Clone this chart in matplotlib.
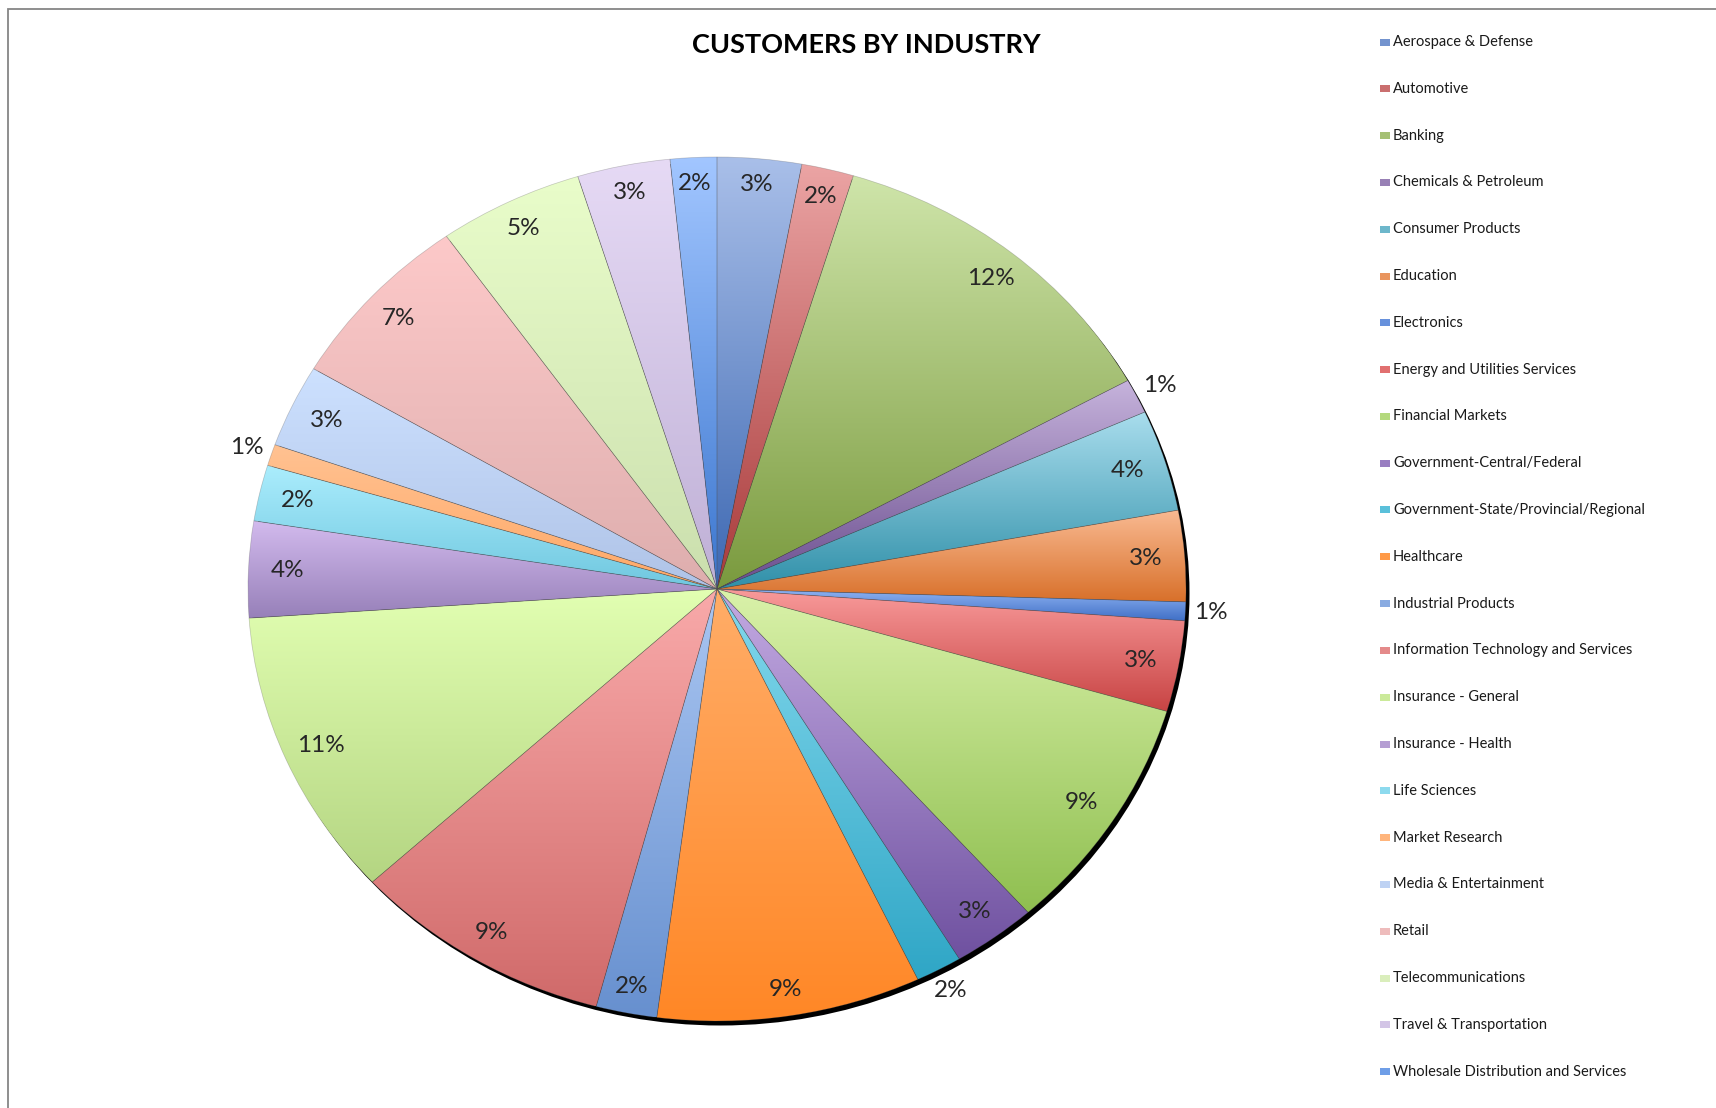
import matplotlib.pyplot as plt
import matplotlib.colors as mcolors
from matplotlib.patches import Ellipse, Rectangle
import numpy as np

industries = ['Aerospace & Defense', 'Automotive', 'Banking', 'Chemicals & Petroleum',
              'Consumer Products', 'Education', 'Electronics', 'Energy and Utilities Services',
              'Financial Markets', 'Government-Central/Federal',
              'Government-State/Provincial/Regional', 'Healthcare', 'Industrial Products',
              'Information Technology and Services', 'Insurance - General', 'Insurance - Health',
              'Life Sciences', 'Market Research', 'Media & Entertainment', 'Retail',
              'Telecommunications', 'Travel & Transportation', 'Wholesale Distribution and Services']
# share of customers (%)
shares = [2.9, 1.8, 12.3, 1.3, 3.8, 3.4, 0.7, 3.4, 8.9, 2.9, 1.6, 9.1, 2.1, 9.0,
          10.8, 3.6, 2.1, 0.8, 3.1, 6.7, 5.0, 3.2, 1.6]
# slices whose label sits outside the pie
outside = ['Chemicals & Petroleum', 'Electronics', 'Government-State/Provincial/Regional',
           'Market Research']

# gradient colours of each slice (top -> bottom)
tops = ['#a9bfe9', '#eba4a4', '#cfe5aa', '#c6b3dc', '#a9dded', '#f9ba92', '#8fb3f2', '#f99b9b',
        '#daf2aa', '#c3aae2', '#84d9ed', '#ffad68', '#aac6f2', '#f9aaaa', '#e2ffb2', '#d3bbee',
        '#abedfd', '#ffc292', '#cde1ff', '#fdc9c9', '#e9fdca', '#e6daf5', '#a2c6ff']
bottoms = ['#3d68b2', '#a83a3a', '#7a9a3e', '#6a4d8e', '#3090a9', '#d8702a', '#3f6fc6', '#c84444',
           '#8fbf50', '#6f51a0', '#2fa6c6', '#ff8726', '#6790cf', '#d06a6a', '#b4d582', '#9780b9',
           '#6fc7df', '#ffa866', '#afc3e7', '#deaeae', '#cbdfae', '#bfb0d6', '#3b76cf']

W, H = 1716, 1108
fig = plt.figure(figsize=(W / 100, H / 100), dpi=100)
fig.patch.set_facecolor('white')

# chart border (only left and top visible)
fig.patches.append(Rectangle((7.5 / W, -0.05), 1.2, (H - 8.5) / H + 0.05, transform=fig.transFigure,
                             fill=False, edgecolor='#868686', linewidth=1.3))

rx, ry = 469, 432
cx, cy = 717, H - 589
lim = 1.15
ax = fig.add_axes([(cx - rx * lim) / W, (cy - ry * lim) / H, 2 * rx * lim / W, 2 * ry * lim / H])

fam = ['Lato', 'DejaVu Sans']
wedges, texts, autotexts = ax.pie(
    shares, startangle=90, counterclock=False,
    autopct=lambda p: '%d%%' % round(p), pctdistance=0.942,
    wedgeprops=dict(facecolor='none', edgecolor=(0.3, 0.3, 0.3, 0.3), linewidth=0.5, zorder=3),
    textprops=dict(fontsize=17.5, color='#262626', family=fam))
for t in autotexts:
    t.set_zorder(5)

# shadow under the pie
ax.add_patch(Ellipse((3.5 / rx, -4.5 / ry), 2, 2, facecolor='black', edgecolor='none', zorder=1))

for w, name, top, bot, t in zip(wedges, industries, tops, bottoms, autotexts):
    ext = w.get_path().get_extents()
    c0 = np.array(mcolors.to_rgb(top))
    c1 = np.array(mcolors.to_rgb(bot))
    f = np.linspace(0, 1, 256)[:, None, None]
    grad = c0 * (1 - f) + c1 * f
    grad = np.repeat(grad, 2, axis=1)
    im = ax.imshow(grad, extent=(ext.x0, ext.x1, ext.y0, ext.y1), origin='upper',
                   aspect='auto', interpolation='bilinear', zorder=2)
    im.set_clip_path(w)
    mid = np.deg2rad((w.theta1 + w.theta2) / 2)
    if name in outside:
        t.set_position((1.055 * np.cos(mid), 1.055 * np.sin(mid)))
    else:
        # keep labels on the left/right sides a touch further in
        r = 0.942 - 0.025 * abs(np.cos(mid))
        t.set_position((r * np.cos(mid), r * np.sin(mid)))

ax.set_aspect('auto')
ax.set_xlim(-lim, lim)
ax.set_ylim(-lim, lim)
ax.axis('off')

fig.text(866 / W, 1 - 45 / H, 'CUSTOMERS BY INDUSTRY', ha='center', va='center',
         fontsize=19.5, fontweight='bold', color='black', family=fam)

# legend
y0, step = 42, 46.8
for i, (name, top, bot) in enumerate(zip(industries, tops, bottoms)):
    y = y0 + i * step
    col = (np.array(mcolors.to_rgb(top)) + np.array(mcolors.to_rgb(bot))) / 2
    fig.patches.append(Rectangle((1380 / W, 1 - (y + 3.5) / H), 10 / W, 7 / H,
                                 transform=fig.transFigure, facecolor=col, edgecolor='none'))
    fig.text(1393 / W, 1 - y / H, name, ha='left', va='center', fontsize=10.5,
             color='#1a1a1a', family=fam)

fig.savefig('out.png', dpi=100)
